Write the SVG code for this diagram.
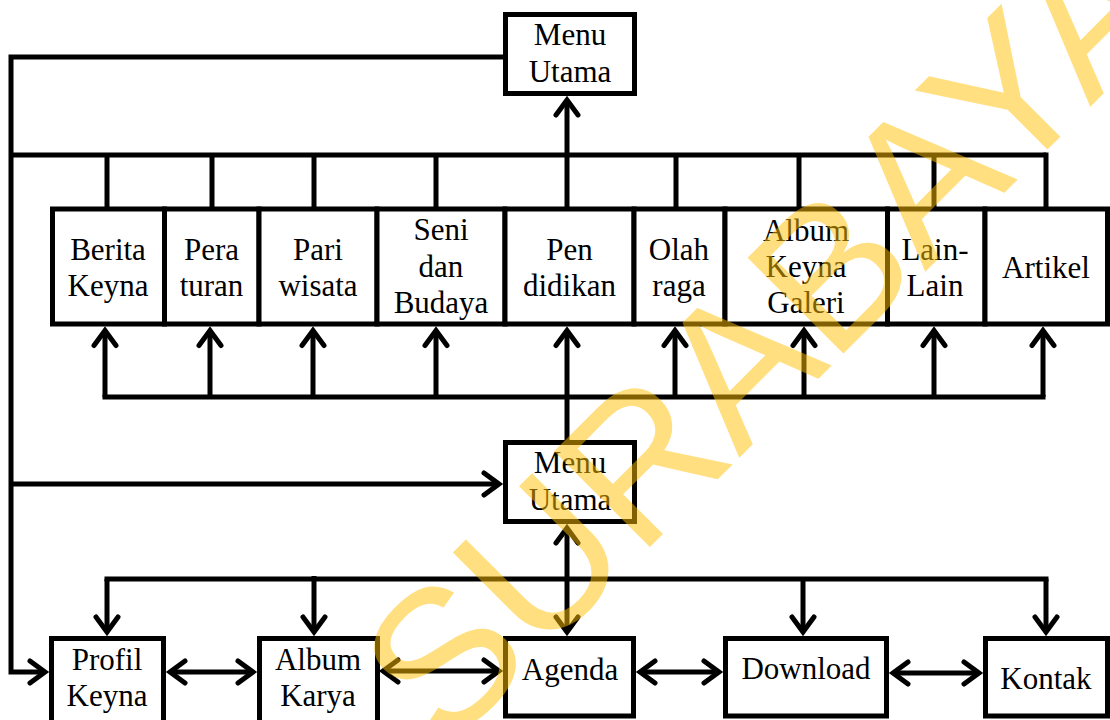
<svg xmlns="http://www.w3.org/2000/svg" width="1110" height="720" viewBox="0 0 1110 720">
<defs>
<style>
.box{fill:#fff;stroke:#000;stroke-width:5}
.lbl{font-family:"Liberation Serif","Times New Roman",serif;font-size:31px;fill:#000;text-anchor:middle}
.ln{fill:none;stroke:#000;stroke-width:5;stroke-linejoin:miter}
.arr{marker-end:url(#ah)}
.dbl{marker-start:url(#ah);marker-end:url(#ah)}
.wm{font-family:"Liberation Sans",Arial,sans-serif;font-size:197px;fill:#FFC000;fill-opacity:0.5}
</style>
<marker id="ah" viewBox="-20 -15 26 30" refX="0" refY="0" markerWidth="26" markerHeight="30" markerUnits="userSpaceOnUse" orient="auto-start-reverse">
<path d="M-15,-11 L0,0 L-15,11" fill="none" stroke="#000" stroke-width="5" stroke-linecap="round"/>
</marker>
</defs>
<rect width="1110" height="720" fill="#fff"/>

<g id="connectors">
<polyline class="ln arr" points="503,57 11,57 11,672 45,672"/>
<line class="ln" x1="11" y1="155" x2="1046" y2="155"/>
<line class="ln" x1="107" y1="155" x2="107" y2="207"/>
<line class="ln" x1="212" y1="155" x2="212" y2="207"/>
<line class="ln" x1="314" y1="155" x2="314" y2="207"/>
<line class="ln" x1="436" y1="155" x2="436" y2="207"/>
<line class="ln" x1="676" y1="155" x2="676" y2="207"/>
<line class="ln" x1="799" y1="155" x2="799" y2="207"/>
<line class="ln" x1="934" y1="155" x2="934" y2="207"/>
<line class="ln" x1="1046" y1="152.5" x2="1046" y2="207"/>
<line class="ln arr" x1="567" y1="207" x2="567" y2="100"/>
<line class="ln" x1="102.5" y1="397" x2="1045.5" y2="397"/>
<line class="ln arr" x1="105" y1="397" x2="105" y2="330.5"/>
<line class="ln arr" x1="210" y1="397" x2="210" y2="330.5"/>
<line class="ln arr" x1="313" y1="397" x2="313" y2="330.5"/>
<line class="ln arr" x1="436" y1="397" x2="436" y2="330.5"/>
<line class="ln arr" x1="567" y1="440" x2="567" y2="330.5"/>
<line class="ln arr" x1="675" y1="397" x2="675" y2="330.5"/>
<line class="ln arr" x1="804" y1="397" x2="804" y2="330.5"/>
<line class="ln arr" x1="934" y1="397" x2="934" y2="330.5"/>
<line class="ln arr" x1="1043" y1="397" x2="1043" y2="330.5"/>
<line class="ln arr" x1="11" y1="484" x2="499" y2="484"/>
<line class="ln dbl" x1="567" y1="528" x2="567" y2="632"/>
<line class="ln" x1="104.5" y1="579" x2="1048.5" y2="579"/>
<line class="ln arr" x1="107" y1="579" x2="107" y2="632"/>
<line class="ln arr" x1="314" y1="576" x2="314" y2="632"/>
<line class="ln arr" x1="803" y1="579" x2="803" y2="632"/>
<line class="ln arr" x1="1046" y1="579" x2="1046" y2="632"/>
<line class="ln dbl" x1="170" y1="672" x2="253" y2="672"/>
<line class="ln dbl" x1="383" y1="671" x2="499" y2="671"/>
<line class="ln dbl" x1="640" y1="672" x2="719" y2="672"/>
<line class="ln dbl" x1="893" y1="673" x2="979" y2="673"/>
</g>

<g id="menu-utama-top">
<rect class="box" x="505.5" y="14.5" width="129" height="79"/>
<text class="lbl" x="570" y="45">Menu</text>
<text class="lbl" x="570" y="82">Utama</text>
</g>

<g id="berita-keyna">
<rect class="box" x="52.5" y="209" width="112" height="115"/>
<text class="lbl" x="108" y="260">Berita</text>
<text class="lbl" x="108" y="296">Keyna</text>
</g>
<g id="peraturan">
<rect class="box" x="164.5" y="209" width="94.5" height="115"/>
<text class="lbl" x="211.5" y="260">Pera</text>
<text class="lbl" x="211.5" y="296">turan</text>
</g>
<g id="pariwisata">
<rect class="box" x="259" y="209" width="118" height="115"/>
<text class="lbl" x="318" y="260">Pari</text>
<text class="lbl" x="318" y="296">wisata</text>
</g>
<g id="seni-budaya">
<rect class="box" x="377" y="209" width="128" height="115"/>
<text class="lbl" x="441" y="240">Seni</text>
<text class="lbl" x="441" y="277">dan</text>
<text class="lbl" x="441" y="313">Budaya</text>
</g>
<g id="pendidikan">
<rect class="box" x="505" y="209" width="129" height="115"/>
<text class="lbl" x="569.5" y="260">Pen</text>
<text class="lbl" x="569.5" y="296">didikan</text>
</g>
<g id="olahraga">
<rect class="box" x="634" y="209" width="91" height="115"/>
<text class="lbl" x="679" y="260">Olah</text>
<text class="lbl" x="679" y="296">raga</text>
</g>
<g id="album-keyna-galeri">
<rect class="box" x="725" y="209" width="162.5" height="115"/>
<text class="lbl" x="806" y="241">Album</text>
<text class="lbl" x="806" y="277">Keyna</text>
<text class="lbl" x="806" y="313">Galeri</text>
</g>
<g id="lain-lain">
<rect class="box" x="887.5" y="209" width="97.5" height="115"/>
<text class="lbl" x="935" y="260">Lain-</text>
<text class="lbl" x="935" y="296">Lain</text>
</g>
<g id="artikel">
<rect class="box" x="985" y="209" width="122.5" height="115"/>
<text class="lbl" x="1046" y="278">Artikel</text>
</g>

<g id="menu-utama-mid">
<rect class="box" x="505.5" y="442.5" width="129" height="79"/>
<text class="lbl" x="570" y="473">Menu</text>
<text class="lbl" x="570" y="510">Utama</text>
</g>

<g id="profil-keyna">
<rect class="box" x="51.5" y="638.5" width="112" height="90"/>
<text class="lbl" x="107" y="670">Profil</text>
<text class="lbl" x="107" y="706">Keyna</text>
</g>
<g id="album-karya">
<rect class="box" x="259.5" y="638.5" width="118" height="90"/>
<text class="lbl" x="318" y="670">Album</text>
<text class="lbl" x="318" y="706">Karya</text>
</g>
<g id="agenda">
<rect class="box" x="505.5" y="638.5" width="128" height="77.5"/>
<text class="lbl" x="570" y="680">Agenda</text>
</g>
<g id="download">
<rect class="box" x="725.5" y="638.5" width="161" height="77.5"/>
<text class="lbl" x="806" y="679">Download</text>
</g>
<g id="kontak">
<rect class="box" x="985.5" y="638.5" width="122" height="77.5"/>
<text class="lbl" x="1046" y="689">Kontak</text>
</g>

<text class="wm" transform="translate(445,752) rotate(-45)">SURABAYA</text>
</svg>
